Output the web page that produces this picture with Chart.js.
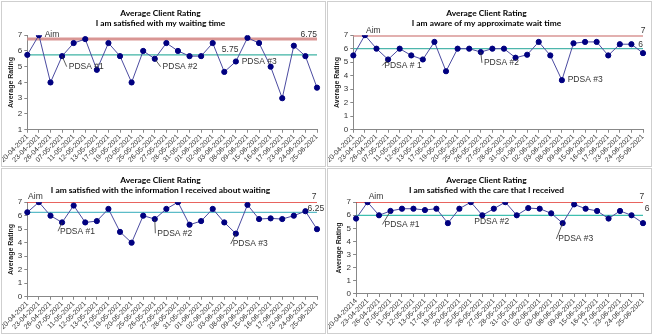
<!DOCTYPE html>
<html>
<head>
<meta charset="utf-8">
<script src="https://cdn.jsdelivr.net/npm/chart.js@4.4.0/dist/chart.umd.min.js"></script>
<style>
body { margin: 0; background: #fff; width: 652px; height: 335px; position: relative; overflow: hidden; }
.panel { position: absolute; border: 1px solid #cfcfcf; box-sizing: border-box; background: #fff; }
</style>
</head>
<body>
<div class="panel" style="left:1px;top:1px;width:325px;height:166px"><canvas id="c1"></canvas></div>
<div class="panel" style="left:327px;top:1px;width:325px;height:166px"><canvas id="c2"></canvas></div>
<div class="panel" style="left:1px;top:168px;width:325px;height:166px"><canvas id="c3"></canvas></div>
<div class="panel" style="left:327px;top:168px;width:325px;height:166px"><canvas id="c4"></canvas></div>
<script>
const dates = ['20-04-2021', '23-04-2021', '26-04-2021', '07-05-2021', '11-05-2021', '12-05-2021',
    '13-05-2021', '17-05-2021', '19-05-2021', '20-05-2021', '25-05-2021', '26-05-2021', '27-05-2021',
    '28-05-2021', '31-05-2021', '01-06-2021', '02-06-2021', '03-06-2021', '08-06-2021', '09-06-2021',
    '15-06-2021', '16-06-2021', '17-06-2021', '23-06-2021', '24-06-2021', '25-06-2021'];
const datesCare = ['20-04-20214'].concat(dates.slice(1));

const waitingTime = [5.75, 7, 4, 5.67, 6.5, 6.75, 4.8, 6.5, 5.67, 4, 6, 5.5, 6.5, 6, 5.67, 5.67,
    6.5, 4.67, 5.33, 6.83, 6.5, 5, 3, 6.33, 5.67, 3.67];
const awareWait = [5.5, 7, 6, 5.2, 6, 5.5, 5.2, 6.5, 4.33, 6, 6, 5.75, 6, 6, 5.33, 5.55,
    6.5, 5.5, 3.67, 6.4, 6.5, 6.5, 5.5, 6.33, 6.33, 5.67];
const infoWaiting = [6.25, 7, 6, 5.5, 6.75, 5.5, 5.6, 6.5, 4.8, 4, 6, 5.75, 6.5, 7, 5.33, 5.6,
    6.5, 5.5, 4.67, 6.8, 5.75, 5.8, 5.75, 6, 6.33, 5];
const careReceived = [5.75, 7, 6, 6.33, 6.5, 6.5, 6.4, 6.5, 5.4, 6.5, 7, 6, 6.5, 7, 6, 6.55,
    6.5, 6.15, 5.4, 6.83, 6.5, 6.33, 5.75, 6.33, 6, 5.4];

const aims = [6.75, 7, 7, 7];
const medians = [5.75, 6, 6.25, 6];
const yMins = [1, 0, 0, 0];

// annotation text placed in data units: x = category index, y = rating
const notes1 = [
    { text: 'Aim', x: 1.5, y: 7.05 },
    { text: 'PDSA #1', x: 3.4, y: 5.0, from: [3, 5.67] },
    { text: 'PDSA #2', x: 11.5, y: 5.0, from: [11, 5.5] },
    { text: 'PDSA #3', x: 18.5, y: 5.35 },
    { text: '5.75', x: 17.5, y: 6.05, align: 'center' },
    { text: '6.75', x: 25, y: 7.05, align: 'right' }
];
const notes2 = [
    { text: 'Aim', x: 1.1, y: 7.35 },
    { text: 'PDSA # 1', x: 2.5, y: 4.75, from: [3, 5.2] },
    { text: 'PDSA #2', x: 11.1, y: 4.95, from: [11, 5.75] },
    { text: 'PDSA #3', x: 18.5, y: 3.68 },
    { text: '7', x: 25, y: 7.35, align: 'center' },
    { text: '6', x: 24.8, y: 6.3, align: 'center' }
];
const notes3 = [
    { text: 'Aim', x: 0.7, y: 7.4, align: 'center' },
    { text: 'PDSA #1', x: 2.65, y: 4.85, from: [3, 5.5] },
    { text: 'PDSA #2', x: 11.05, y: 4.7, from: [11, 5.75] },
    { text: 'PDSA #3', x: 17.55, y: 3.9, from: [18, 4.67] },
    { text: '7', x: 24.75, y: 7.4, align: 'center' },
    { text: '6.25', x: 24.9, y: 6.5, align: 'center' }
];
const notes4 = [
    { text: 'Aim', x: 1.1, y: 7.45 },
    { text: 'PDSA #1', x: 2.3, y: 5.3, from: [3, 6.33] },
    { text: 'PDSA #2', x: 10.3, y: 5.5 },
    { text: 'PDSA #3', x: 17.45, y: 4.2, from: [18, 5.4] },
    { text: '7', x: 24.9, y: 7.45, align: 'center' },
    { text: '6', x: 25.35, y: 6.5, align: 'center' }
];

const notesPlugin = {
    id: 'notes',
    afterDatasetsDraw(chart, args, opts) {
        const ctx = chart.ctx;
        const xs = chart.scales.x, ys = chart.scales.y;
        ctx.save();
        ctx.font = '8.5px "Liberation Sans", Arial, sans-serif';
        ctx.fillStyle = '#333';
        ctx.strokeStyle = '#333';
        ctx.lineWidth = 0.8;
        ctx.textBaseline = 'middle';
        (opts.items || []).forEach(function (n) {
            const px = xs.getPixelForValue(n.x), py = ys.getPixelForValue(n.y);
            if (n.from) {
                ctx.beginPath();
                ctx.moveTo(xs.getPixelForValue(n.from[0]), ys.getPixelForValue(n.from[1]));
                ctx.lineTo(px, py);
                ctx.stroke();
            }
            ctx.textAlign = n.align || 'left';
            ctx.fillText(n.text, px + (n.from ? 2 : 0), py);
        });
        ctx.restore();
    }
};

function makeChart(id, subtitle, labels, values, idx, notes, aimColor, aimWidth, medColor) {
    const ctx = document.getElementById(id).getContext('2d');
    new Chart(ctx, {
        type: 'line',
        data: {
            labels: labels,
            datasets: [{
                data: values,
                borderColor: '#4b4ba0',
                borderWidth: 1,
                backgroundColor: '#000080',
                pointBackgroundColor: '#000080',
                pointBorderColor: '#000080',
                pointRadius: 2.6,
                tension: 0,
                order: 0
            }, {
                data: labels.map(() => aims[idx]),
                borderColor: aimColor,
                borderWidth: aimWidth,
                pointRadius: 0,
                order: 2
            }, {
                data: labels.map(() => medians[idx]),
                borderColor: medColor,
                borderWidth: 1.2,
                pointRadius: 0,
                order: 1
            }]
        },
        options: {
            responsive: true,
            maintainAspectRatio: false,
            animation: false,
            layout: { padding: { left: 2, right: 8, top: 2, bottom: 2 } },
            plugins: {
                legend: { display: false },
                tooltip: { enabled: false },
                title: {
                    display: true,
                    text: 'Average Client Rating',
                    color: '#000',
                    font: { family: 'Lato, "Open Sans", sans-serif', size: 8.4, weight: 'bold', lineHeight: 1.2 },
                    padding: { top: 4, bottom: 0 }
                },
                subtitle: {
                    display: true,
                    text: subtitle,
                    color: '#000',
                    font: { family: 'Lato, "Open Sans", sans-serif', size: 8.4, weight: 'bold', lineHeight: 1.2 },
                    padding: { top: 0, bottom: 7 }
                },
                notes: { items: notes }
            },
            scales: {
                x: {
                    offset: false,
                    grid: { drawOnChartArea: false, color: '#888', tickLength: 3 },
                    border: { color: '#888' },
                    ticks: {
                        autoSkip: false,
                        minRotation: 45,
                        maxRotation: 45,
                        padding: 0,
                        color: '#333',
                        font: { family: '"Liberation Sans", Arial, sans-serif', size: 7 }
                    }
                },
                y: {
                    min: yMins[idx],
                    max: 7,
                    grid: { drawOnChartArea: false, color: '#888', tickLength: 3 },
                    border: { color: '#888' },
                    ticks: {
                        stepSize: 1,
                        padding: 2,
                        color: '#333',
                        font: { family: '"Liberation Sans", Arial, sans-serif', size: 8 }
                    },
                    title: {
                        display: true,
                        text: 'Average Rating',
                        color: '#222',
                        padding: 1,
                        font: { family: '"Liberation Sans", Arial, sans-serif', size: 7, weight: 'bold' }
                    }
                }
            }
        },
        plugins: [notesPlugin]
    });
}

makeChart('c1', 'I am satisfied with my waiting time', dates, waitingTime, 0, notes1, '#d99694', 3, '#3fb3a4');
makeChart('c2', 'I am aware of my approximate wait time', dates, awareWait, 1, notes2, '#d99694', 3, '#4db6ac');
makeChart('c3', 'I am satisfied with the information I received about waiting', dates, infoWaiting, 2, notes3, '#e0302a', 1.5, '#5cbcc8');
makeChart('c4', 'I am satisfied with the care that I received', datesCare, careReceived, 3, notes4, '#e0302a', 1.5, '#3fbfb0');
</script>
</body>
</html>
